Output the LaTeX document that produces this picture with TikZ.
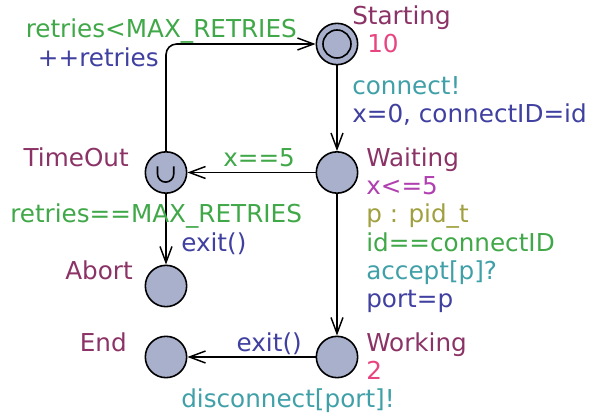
\documentclass[tikz,border=0pt]{standalone}
\usepackage{fontspec}
\setmainfont{DejaVu Sans}
\usetikzlibrary{arrows.meta}
\definecolor{locfill}{RGB}{168,176,204}
\definecolor{lname}{RGB}{139,51,102}
\definecolor{cinv}{RGB}{176,64,176}
\definecolor{crate}{RGB}{232,68,127}
\definecolor{cguard}{RGB}{64,168,72}
\definecolor{csync}{RGB}{64,160,168}
\definecolor{cupd}{RGB}{64,64,160}
\definecolor{csel}{RGB}{160,160,64}
\begin{document}
\begin{tikzpicture}[x=0.75pt,y=-0.75pt,
loc/.style={%
circle,
draw,
line width=1.2pt,
fill=locfill,
minimum size=31pt,
inner sep=0pt
},
txt/.style={%
inner sep=0pt,
font=\fontsize{18.5}{22}\selectfont
},
lw/.style={txt,anchor=base west},
le/.style={txt,anchor=base east},
trans/.style={%
line width=1.2pt,
-{Straight Barb[length=12pt,width=9pt,line width=1.1pt]}
},
]
\useasboundingbox(0,0)rectangle(590,416);
%% locations
\node[loc]at(337,44)(start){};
\draw[line width=1.2pt](start)circle[radius=10.5pt];
\node[loc]at(337,172.5)(wait){};
\node[loc]at(166,172.5)(tout){};
\draw[line width=1.2pt](157.5,166.5)--(157.5,174)arc[start angle=180,end angle=360,radius=6.1pt]--(173.8,166.5);
\node[loc]at(166,286)(abort){};
\node[loc]at(166,357)(end){};
\node[loc]at(337,357)(work){};
%% names and invariants
\node[lw,text=lname]at(352,25)(nstart){Starting};
\node[lw,text=crate]at(367,53)(rstart){10};
\node[lw,text=lname]at(366,167)(nwait){Waiting};
\node[lw,text=cinv]at(366,195)(iwait){x<=5};
\node[le,text=lname]at(129,167)(ntout){TimeOut};
\node[le,text=lname]at(133,280)(nabort){Abort};
\node[le,text=lname]at(127,352)(nend){End};
\node[lw,text=lname]at(366,352)(nwork){Working};
\node[lw,text=crate]at(366,380)(rwork){2};
%% transitions
\draw[trans](start)--(wait);
\node[lw,text=csync]at(352,95)(s1){connect!};
\node[lw,text=cupd]at(352,123)(u1){x=0, connectID=id};
\draw[trans](wait)--(tout);
\node[lw,text=cguard]at(223,167)(g2){x==5};
\draw[trans,rounded corners=8pt](tout.north)|-(start.west);
\node[le,text=cguard]at(297,38)(g3){retries<MAX\_RETRIES};
\node[le,text=cupd]at(159,67)(u3){++retries};
\draw[trans](tout)--(abort);
\node[lw,text=cguard]at(10,223)(g4){retries==MAX\_RETRIES};
\node[lw,text=cupd]at(181,252)(u4){exit()};
\draw[trans](wait)--(work);
\node[lw,text=csel]at(366,223)(sel5){p : pid\_t};
\node[lw,text=cguard]at(366,252)(g5){id==connectID};
\node[lw,text=csync]at(366,280)(s5){accept[p]?};
\node[lw,text=cupd]at(366,308)(u5){port=p};
\draw[trans](work)--(end);
\node[le,text=cupd]at(302,352)(u6){exit()};
\node[lw,text=csync]at(181,408)(s6){disconnect[port]!};
\end{tikzpicture}
\end{document}
